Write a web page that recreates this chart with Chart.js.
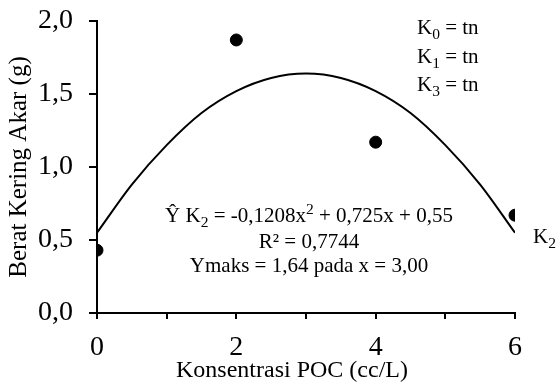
<!DOCTYPE html>
<html>
<head>
<meta charset="utf-8">
<script src="https://cdn.jsdelivr.net/npm/chart.js@4.4.1/dist/chart.umd.min.js"></script>
<style>
  html, body { margin: 0; padding: 0; background: #fff; }
</style>
</head>
<body>
<canvas id="chartAkar" width="557" height="389"></canvas>
<script>
// data
var konsentrasi = [0, 2, 4, 6];
var beratAkar = [0.43, 1.87, 1.17, 0.67];
// garis regresi K2 (dibaca dari kurva)
var kurvaX = [0, 0.5, 1, 1.5, 2, 2.5, 3, 3.5, 4, 4.5, 5, 5.5, 6];
var kurvaY = [0.55, 0.88, 1.15, 1.37, 1.52, 1.61, 1.64, 1.61, 1.52, 1.37, 1.15, 0.88, 0.55];
var xLabels = ['0', '', '2', '', '4', '', '6'];
var yLabels = ['0,0', '0,5', '1,0', '1,5', '2,0'];

var fontSerif = '"Liberation Serif", "Times New Roman", serif';

function toPoints(xs, ys) {
  var out = [];
  for (var i = 0; i < xs.length; i++) out.push({ x: xs[i], y: ys[i] });
  return out;
}

// tulis teks dengan subscript / superscript
function drawRich(ctx, parts, x, y, size, align) {
  var kecil = size * 0.74;
  var w = 0;
  parts.forEach(function (p) {
    ctx.font = (p[1] ? kecil : size) + 'px ' + fontSerif;
    w += ctx.measureText(p[0]).width;
  });
  var cx = align === 'center' ? x - w / 2 : x;
  parts.forEach(function (p) {
    ctx.font = (p[1] ? kecil : size) + 'px ' + fontSerif;
    var dy = p[1] === 'sub' ? size * 0.24 : (p[1] === 'sup' ? -size * 0.36 : 0);
    ctx.fillText(p[0], cx, y + dy);
    cx += ctx.measureText(p[0]).width;
  });
}

var teksPlugin = {
  id: 'teks',
  afterDraw: function (chart) {
    var ctx = chart.ctx;
    ctx.save();
    ctx.fillStyle = '#000';
    ctx.textBaseline = 'alphabetic';
    ctx.textAlign = 'left';
    drawRich(ctx, [['K'], ['0', 'sub'], [' = tn']], 417, 34, 21);
    drawRich(ctx, [['K'], ['1', 'sub'], [' = tn']], 417, 63, 21);
    drawRich(ctx, [['K'], ['3', 'sub'], [' = tn']], 417, 91, 21);
    drawRich(ctx, [['K'], ['2', 'sub']], 533, 243, 21);
    drawRich(ctx, [['\u0176 K'], ['2', 'sub'], [' = -0,1208x'], ['2', 'sup'], [' + 0,725x + 0,55']], 309, 222, 21, 'center');
    drawRich(ctx, [['R\u00b2 = 0,7744']], 309, 248, 21, 'center');
    drawRich(ctx, [['Ymaks = 1,64 pada x = 3,00']], 309, 272, 21, 'center');
    // judul sumbu x
    drawRich(ctx, [['Konsentrasi POC (cc/L)']], 292, 377, 24, 'center');
    ctx.restore();
  }
};

var ctxAkar = document.getElementById('chartAkar').getContext('2d');
var chartAkar = new Chart(ctxAkar, {
  type: 'scatter',
  data: {
    datasets: [{
      type: 'line',
      data: toPoints(kurvaX, kurvaY),
      borderColor: '#000',
      borderWidth: 2,
      pointRadius: 0,
      fill: false,
      cubicInterpolationMode: 'monotone'
    }, {
      data: toPoints(konsentrasi, beratAkar),
      backgroundColor: '#000',
      borderColor: '#000',
      pointRadius: 6,
      pointHoverRadius: 6
    }]
  },
  options: {
    responsive: false,
    animation: false,
    events: [],
    layout: { padding: { top: 21, right: 42, left: 0, bottom: 0 } },
    plugins: {
      legend: { display: false },
      tooltip: { enabled: false }
    },
    scales: {
      x: {
        type: 'linear',
        min: 0,
        max: 6,
        afterFit: function (s) { s.height = 76; s.paddingLeft = 0; s.paddingRight = 0; },
        border: { color: '#000', width: 2 },
        grid: { drawOnChartArea: false, drawTicks: true, tickLength: 6, color: '#000', lineWidth: 2 },
        ticks: {
          stepSize: 1,
          padding: 12,
          color: '#000',
          font: { family: fontSerif, size: 28 },
          callback: function (v) { return xLabels[v]; }
        }
      },
      y: {
        min: 0,
        max: 2,
        afterFit: function (s) { s.width = 97; s.paddingTop = 0; s.paddingBottom = 0; },
        border: { color: '#000', width: 2 },
        grid: { drawOnChartArea: false, drawTicks: true, tickLength: 8, color: '#000', lineWidth: 2 },
        ticks: {
          stepSize: 0.5,
          padding: 16,
          color: '#000',
          font: { family: fontSerif, size: 28 },
          callback: function (v) { return yLabels[Math.round(v * 2)]; }
        },
        title: {
          display: true,
          text: 'Berat Kering Akar (g)',
          color: '#000',
          padding: { bottom: 0 },
          font: { family: fontSerif, size: 25 }
        }
      }
    }
  },
  plugins: [teksPlugin]
});
</script>
</body>
</html>
